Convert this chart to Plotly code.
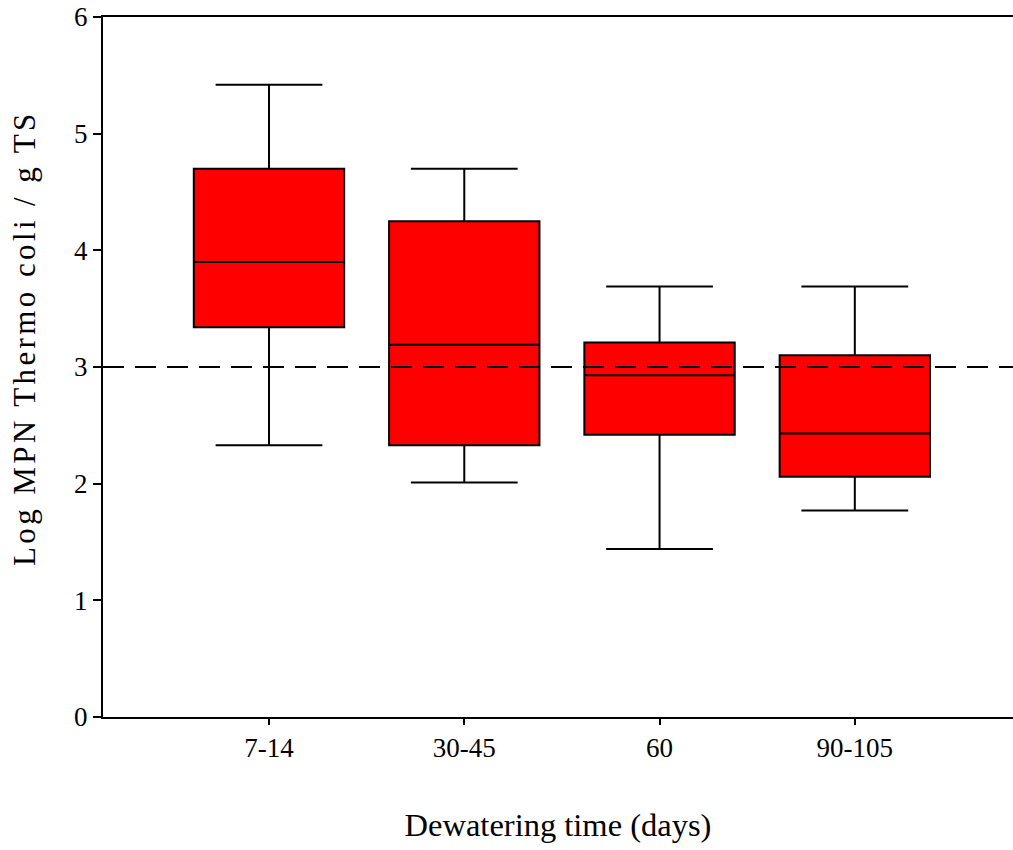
import plotly.graph_objects as go

categories = ["7-14", "30-45", "60", "90-105"]
upper_whisker = [5.42, 4.70, 3.69, 3.69]
q3_values = [4.70, 4.25, 3.21, 3.10]
median_values = [3.90, 3.19, 2.93, 2.43]
q1_values = [3.34, 2.33, 2.42, 2.06]
lower_whisker = [2.33, 2.01, 1.44, 1.77]
y_ticks = [0, 1, 2, 3, 4, 5, 6]
threshold = 3
x_title = "Dewatering time (days)"
y_title = "Log MPN Thermo coli / g TS"

FONT = "Liberation Serif, Times New Roman, serif"

fig = go.Figure()
fig.add_trace(go.Box(
    x=categories,
    q1=q1_values,
    median=median_values,
    q3=q3_values,
    lowerfence=lower_whisker,
    upperfence=upper_whisker,
    width=0.77,
    whiskerwidth=0.71,
    fillcolor="#FF0000",
    line=dict(color="black", width=2),
    showlegend=False,
    hoverinfo="skip",
))

fig.add_shape(
    type="line", xref="paper", yref="y",
    x0=0, x1=1, y0=threshold, y1=threshold,
    line=dict(color="black", width=2, dash="21px,11px"),
    layer="above",
)

fig.add_annotation(
    text='<span style="letter-spacing:3.4px">' + y_title + "</span>",
    xref="paper", yref="paper",
    x=-0.0863, y=0.542,
    xanchor="center", yanchor="middle",
    textangle=-90, showarrow=False,
    font=dict(size=31, family=FONT, color="black"),
)

fig.update_layout(
    width=1013, height=850,
    margin=dict(l=103, r=0, t=17, b=133),
    paper_bgcolor="white", plot_bgcolor="white",
    font=dict(family=FONT, color="black"),
    showlegend=False,
    xaxis=dict(
        type="category",
        range=[-0.85, 3.81],
        showline=True, linecolor="black", linewidth=2,
        mirror=True,
        ticks="outside", ticklen=6, tickwidth=2, tickcolor="black",
        tickfont=dict(size=27, family=FONT),
        showgrid=False, zeroline=False,
        title=dict(text=x_title, font=dict(size=32.5, family=FONT), standoff=51),
    ),
    yaxis=dict(
        range=[0, 6],
        tickvals=y_ticks,
        showline=True, linecolor="black", linewidth=2,
        mirror=False,
        ticks="outside", ticklen=8, tickwidth=2, tickcolor="black",
        tickfont=dict(size=27, family=FONT),
        showgrid=False, zeroline=False,
    ),
)

fig.write_html("out.html")
